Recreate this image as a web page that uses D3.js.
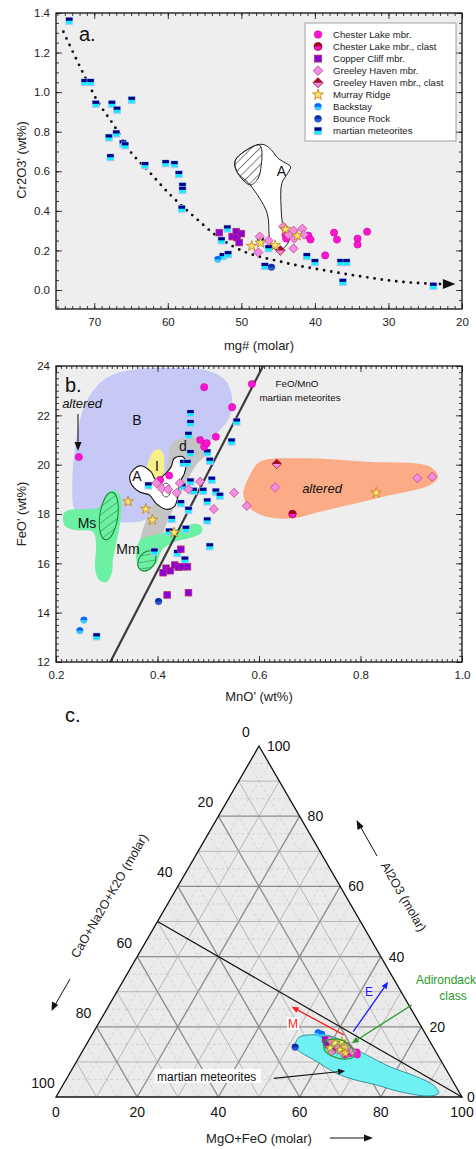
<!DOCTYPE html>
<html><head><meta charset="utf-8">
<script src="https://cdn.jsdelivr.net/npm/d3@7"></script>
<style>body{margin:0;background:#fff}svg{display:block;font-family:"Liberation Sans",Arial,sans-serif}</style>
</head><body><svg id="c" width="476" height="1149"></svg>
<script>
// ================= DATA : panel a (mg#, Cr2O3') =================
const aTicksX=[70,60,50,40,30,20];
const aTicksY=[0.0,0.2,0.4,0.6,0.8,1.0,1.2,1.4];
const aChesterLake=[[44.0,0.28],[43.9,0.26],[40.9,0.275],[40.6,0.255],[38.6,0.175],[37.4,0.29],[37.0,0.255],[34.2,0.26],[34.2,0.23],[32.9,0.295]];
const aCopperCliff=[[53.0,0.29],[51.25,0.27],[50.7,0.295],[50.6,0.265],[50.0,0.285],[50.3,0.24]];
const aGreeleyHaven=[[47.5,0.27],[47.7,0.19],[46.3,0.25],[44.3,0.32],[42.9,0.30],[41.7,0.31],[42.8,0.26],[42.9,0.21],[43.6,0.28],[41.5,0.28]];
const aGreeleyHavenClast=[[44.7,0.20]];
const aMurrayRidge=[[48.6,0.222],[47.4,0.239],[45.4,0.226],[44.0,0.307],[42.4,0.274]];
const aBackstay=[[53.2,0.155]];
const aBounceRock=[[45.9,0.115]];
const aMartian=[[73.4,1.36],[71.3,1.05],[70.5,1.05],[69.8,0.94],[67.6,0.94],[66.9,0.91],[64.9,0.96],[68.0,0.77],[67.0,0.79],[66.1,0.74],[65.8,0.73],[67.8,0.67],[63.1,0.63],[60.3,0.64],[59.1,0.635],[58.5,0.585],[58.0,0.525],[58.0,0.505],[58.1,0.41],[51.9,0.31],[52.7,0.25],[52.5,0.17],[51.8,0.18],[47.4,0.25],[46.3,0.21],[46.8,0.12],[41.1,0.17],[40.0,0.14],[36.5,0.14],[35.7,0.14],[36.2,0.04],[23.9,0.02]];
const aTrend=[[74.2,1.305],[71.3,1.08],[69.8,0.97],[67.3,0.83],[65.5,0.72],[62.6,0.60],[59.5,0.475],[56.1,0.36],[53.6,0.28],[51.1,0.22],[44.3,0.14],[38.8,0.10],[33.4,0.067],[28.4,0.042],[22.5,0.03]];
const aRegionA=[[47.9,0.733],[50.8,0.657],[50.6,0.598],[48.8,0.531],[46.5,0.389],[46.2,0.269],[45.9,0.219],[44.7,0.202],[43.5,0.253],[44.3,0.32],[44.6,0.421],[44.5,0.539],[43.7,0.59],[43.3,0.623],[43.9,0.64],[45.0,0.665],[45.9,0.707],[46.8,0.733]];
const aRegionAHatch=[[47.9,0.733],[50.8,0.657],[50.6,0.598],[48.8,0.531],[47.7,0.566],[47.3,0.632],[47.2,0.697],[47.4,0.728]];

// ================= DATA : panel b (MnO', FeO') =================
const bTicksX=[0.2,0.4,0.6,0.8,1.0];
const bTicksY=[12,14,16,18,20,22,24];
const bChesterLake=[[0.492,23.14],[0.586,23.27],[0.547,22.33],[0.245,20.31],[0.484,21.0],[0.492,20.73],[0.497,20.87],[0.515,21.13],[0.423,19.56],[0.405,19.38]];
const bChesterLakeClast=[[0.666,18.0]];
const bGreeleyHaven=[[0.398,19.25],[0.408,19.04],[0.421,19.0],[0.438,18.86],[0.444,19.25],[0.461,19.0],[0.484,19.31],[0.511,18.2],[0.551,18.86],[0.576,18.33],[0.632,19.08],[0.912,19.45],[0.941,19.51]];
const bGreeleyHavenClast=[[0.635,20.03]];
const bMurrayRidge=[[0.342,18.5],[0.377,18.2],[0.390,17.76],[0.433,17.25],[0.831,18.86]];
const bCopperCliff=[[0.446,16.57],[0.417,15.8],[0.411,15.62],[0.425,15.7],[0.434,15.93],[0.441,15.84],[0.448,15.86],[0.459,15.86],[0.419,14.72],[0.461,14.81]];
const bBackstay=[[0.247,13.27],[0.255,13.7]];
const bBounceRock=[[0.402,14.45]];
const bMartian=[[0.465,22.08],[0.465,21.68],[0.461,21.20],[0.556,21.74],[0.546,20.93],[0.465,20.46],[0.498,20.49],[0.503,20.15],[0.451,20.06],[0.459,20.06],[0.382,19.15],[0.465,19.31],[0.449,19.11],[0.471,18.93],[0.490,18.93],[0.507,19.38],[0.515,18.90],[0.523,18.73],[0.498,18.50],[0.446,18.43],[0.461,18.16],[0.498,17.73],[0.428,17.79],[0.423,17.28],[0.456,17.39],[0.503,16.68],[0.394,16.47],[0.439,16.41],[0.454,16.14],[0.280,13.03]];
const bFeMnLine=[[0.307,12],[0.608,24]];
const bRegionB=[[0.267,22.82],[0.299,23.51],[0.346,23.84],[0.425,23.92],[0.494,23.84],[0.533,23.43],[0.547,22.70],[0.541,21.89],[0.511,21.12],[0.484,20.39],[0.464,19.70],[0.434,18.97],[0.405,18.36],[0.375,17.76],[0.306,17.68],[0.257,17.76],[0.237,18.16],[0.232,19.18],[0.237,20.59],[0.247,21.81]];
const bRegionD=[[0.429,20.88],[0.454,21.08],[0.480,21.12],[0.498,20.92],[0.494,20.39],[0.476,19.99],[0.454,19.18],[0.434,18.36],[0.417,17.55],[0.401,16.74],[0.381,16.54],[0.366,16.74],[0.371,17.35],[0.385,18.08],[0.401,18.77],[0.415,19.58],[0.421,20.27]];
const bRegionI=[[0.391,20.51],[0.401,20.64],[0.411,20.47],[0.413,19.78],[0.411,19.22],[0.395,18.89],[0.377,18.89],[0.371,19.18],[0.377,19.70],[0.383,20.19]];
const bRegionA=[[0.346,19.58],[0.364,19.95],[0.387,19.72],[0.397,19.38],[0.417,19.66],[0.427,19.92],[0.433,20.26],[0.450,20.32],[0.456,20.06],[0.453,19.65],[0.443,19.24],[0.440,18.70],[0.433,18.30],[0.417,18.19],[0.397,18.43],[0.384,18.77],[0.364,18.90],[0.348,19.24]];
const bRegionAltered=[[0.572,18.57],[0.569,18.84],[0.582,19.58],[0.602,20.12],[0.681,20.26],[0.812,20.12],[0.937,19.92],[0.953,19.51],[0.937,19.18],[0.845,18.70],[0.720,18.09],[0.668,17.83],[0.615,17.89],[0.582,18.23]];
const bRegionMs=[[0.220,18.12],[0.257,18.20],[0.287,18.28],[0.299,18.81],[0.312,18.97],[0.326,18.73],[0.328,17.96],[0.320,16.95],[0.312,16.14],[0.310,15.61],[0.299,15.24],[0.285,15.32],[0.277,15.81],[0.279,16.74],[0.273,17.27],[0.237,17.35],[0.218,17.51],[0.214,17.92]];
const bRegionMm=[[0.366,16.95],[0.395,17.15],[0.434,17.35],[0.474,17.60],[0.488,17.47],[0.486,17.23],[0.464,17.03],[0.434,16.87],[0.409,16.54],[0.397,15.97],[0.375,15.65],[0.362,15.89],[0.358,16.46]];
const bHatchMs=[0.304,17.92];
const bHatchMm=[0.379,16.10];

// ================= DATA : panel c (ternary: MgO+FeO, Al2O3) =================
const cTicks=[0,20,40,60,80,100];
const cChesterLake=[[66.2,12.4],[67.7,12.8],[65.2,12.0],[68.2,12.0]];
const cCopperCliff=[[58.1,16.4],[59.6,14.8],[58.8,15.5],[61.5,13.4]];
const cGreeleyHaven=[[62.5,14.0],[64.0,12.8],[59.4,16.2],[64.6,14.5],[66.5,13.0],[61.5,12.8]];
const cMurrayRidge=[[61.0,15.4],[63.3,13.4],[64.1,14.2],[60.5,14.0],[62.5,15.8],[65.0,12.5]];
const cBounceRock=[[51.8,14.2]];
const cBackstay=[[55.4,18.3],[56.5,17.9]];
const cMartianRegion=[[51.5,17.2],[53.7,17.7],[59.7,17.2],[66.3,13.9],[70.5,12.0],[78.0,8.6],[85.9,5.8],[91.2,3.4],[93.7,1.1],[92.0,0.3],[83.9,1.5],[77.3,3.4],[69.7,5.3],[64.7,7.2],[59.2,10.1],[55.3,12.0],[53.6,12.9],[51.7,14.3],[51.2,16.2]];
const cAdirondack=[[58.2,15.7],[59.7,16.5],[62.9,16.0],[65.9,14.0],[67.6,11.7],[66.0,10.8],[62.8,11.4],[59.7,13.1]];
const cFeldsparJoin=[[0,50],[100,0]];
const cArrowM=[[62.0,17.7],[45.2,25.7]];
const cArrowE=[[63.9,18.6],[65.4,32.8]];
const cArrowAd=[[74.5,26.2],[65.2,15.3]];
const cArrowMM=[[51.0,5.3],[67.5,7.4]];

const legendLabels=["Chester Lake mbr.","Chester Lake mbr., clast","Copper Cliff mbr.","Greeley Haven mbr.","Greeley Haven mbr., clast","Murray Ridge","Backstay","Bounce Rock","martian meteorites"];
const legendTypes=["cl","clc","cc","gh","ghc","mr","bs","br","mm"];

// ================= DRAWING =================
const svg=d3.select('#c');
svg.append('rect').attr('width',476).attr('height',1149).attr('fill','#fff');
const defs=svg.append('defs');
function hatch(id,color,sp,w){
  const p=defs.append('pattern').attr('id',id).attr('patternUnits','userSpaceOnUse')
    .attr('width',sp).attr('height',sp).attr('patternTransform','rotate(45)');
  p.append('line').attr('x1',0).attr('y1',0).attr('x2',0).attr('y2',sp).attr('stroke',color).attr('stroke-width',w);
}
hatch('hK','#111',6,1);
hatch('hG','#1c7a30',6.5,0.9);
hatch('hT','#2a9a2a',4,0.8);

function mark(g,type,x,y,k){
  k=k||1;
  const s=g.append('g').attr('transform',`translate(${x},${y}) scale(${k})`);
  const hc=(r,top,bot,st)=>{
    s.append('circle').attr('r',r).attr('fill',bot).attr('stroke',st).attr('stroke-width',0.6);
    s.append('path').attr('d',`M${-r},0A${r},${r} 0 0 1 ${r},0Z`).attr('fill',top);
  };
  switch(type){
    case 'cl': s.append('circle').attr('r',3.6).attr('fill','#ff14d2').attr('stroke','#c8009e').attr('stroke-width',0.6);break;
    case 'clc': hc(3.8,'#a8001e','#ff14d2','#800018');break;
    case 'cc': s.append('rect').attr('x',-3.3).attr('y',-3.3).attr('width',6.6).attr('height',6.6).attr('fill','#8c00d8').attr('stroke','#b4306c').attr('stroke-width',0.8);break;
    case 'gh': s.append('path').attr('d','M0,-4.6L4.6,0L0,4.6L-4.6,0Z').attr('fill','#f28ee2').attr('stroke','#c4448f').attr('stroke-width',0.8);break;
    case 'ghc':
      s.append('path').attr('d','M0,-4.8L4.8,0L0,4.8L-4.8,0Z').attr('fill','#f28ee2').attr('stroke','#a0102a').attr('stroke-width',0.8);
      s.append('path').attr('d','M-4.8,0L0,-4.8L4.8,0Z').attr('fill','#a0102a');break;
    case 'mr': s.append('path').attr('d',d3.symbol(d3.symbolStar,34)()).attr('fill','#fbe96e').attr('stroke','#c47a10').attr('stroke-width',0.8);break;
    case 'bs': hc(3.3,'#0a64ff','#2ad0ff','#6aa8ff');break;
    case 'br': hc(3.3,'#0a2aa8','#2b58d8','#3050b0');break;
    case 'mm':
      s.append('rect').attr('x',-3.3).attr('y',-3.3).attr('width',6.6).attr('height',6.6).attr('fill','#00f4ff').attr('stroke','#a8c4f2').attr('stroke-width',1.1);
      s.append('rect').attr('x',-3.3).attr('y',-3.3).attr('width',6.6).attr('height',3.1).attr('fill','#00008a');break;
  }
}

function frameAxes(g,x,y,xMaj,xMin,yMaj,yMin,xf,yf){
  const [x0,x1]=x.range(), [y0,y1]=y.range(); // y0 bottom
  g.append('rect').attr('x',Math.min(x0,x1)).attr('y',y1).attr('width',Math.abs(x1-x0)).attr('height',y0-y1).attr('fill','#eeeeee');
  return ()=>{
    const ax=(gen,tr,vals,size,fmt,pad)=>{
      const a=g.append('g').attr('transform',tr).call(gen.tickValues(vals).tickSize(size).tickPadding(pad).tickFormat(fmt));
      a.select('.domain').remove();
      a.selectAll('line').attr('stroke','#111').attr('stroke-width',0.8);
      a.selectAll('text').attr('font-size',11.5).attr('fill','#222').attr('font-family','"Liberation Sans",Arial,sans-serif');
      return a;
    };
    const none=()=>'';
    ax(d3.axisBottom(x),`translate(0,${y0})`,xMin,-3,none,0);
    ax(d3.axisBottom(x),`translate(0,${y0})`,xMaj,-6,xf,9);
    ax(d3.axisTop(x),`translate(0,${y1})`,xMin,-3,none,0);
    ax(d3.axisTop(x),`translate(0,${y1})`,xMaj,-6,none,0);
    ax(d3.axisLeft(y),`translate(${Math.min(x0,x1)},0)`,yMin,-3,none,0);
    ax(d3.axisLeft(y),`translate(${Math.min(x0,x1)},0)`,yMaj,-6,yf,6);
    ax(d3.axisRight(y),`translate(${Math.max(x0,x1)},0)`,yMin,-3,none,0);
    ax(d3.axisRight(y),`translate(${Math.max(x0,x1)},0)`,yMaj,-6,none,0);
    g.append('rect').attr('x',Math.min(x0,x1)).attr('y',y1).attr('width',Math.abs(x1-x0)).attr('height',y0-y1).attr('fill','none').attr('stroke','#111').attr('stroke-width',1.3);
  };
}
const blob=d3.line().curve(d3.curveCatmullRomClosed.alpha(0.5));

// ---------------- panel a ----------------
const xA=d3.scaleLinear().domain([75.2,20]).range([56,462]);
const yA=d3.scaleLinear().domain([-0.096,1.4]).range([309,13]);
const gA=svg.append('g');
const finA=frameAxes(gA,xA,yA,aTicksX,d3.range(21,76,1),aTicksY,d3.range(-0.05,1.41,0.05).map(v=>+v.toFixed(2)),d3.format('d'),d3.format('.1f'));
defs.append('clipPath').attr('id','clipA').append('rect').attr('x',56).attr('y',13).attr('width',406).attr('height',296);
const pA=gA.append('g').attr('clip-path','url(#clipA)');
const pxA=d=>[xA(d[0]),yA(d[1])];
pA.append('path').attr('d',blob(aRegionA.map(pxA))).attr('fill','#fff').attr('stroke','#222').attr('stroke-width',1);
pA.append('path').attr('d',blob(aRegionAHatch.map(pxA))).attr('fill','url(#hK)').attr('stroke','#222').attr('stroke-width',1);
pA.append('text').attr('x',xA(45.2)).attr('y',yA(0.6)+5).attr('font-size',14).attr('fill','#111').text('A');
pA.append('path').attr('d',d3.line().curve(d3.curveMonotoneX)(aTrend.map(pxA))).attr('fill','none')
  .attr('stroke','#111').attr('stroke-width',2.9).attr('stroke-linecap','round').attr('stroke-dasharray','0,7.3');
{const yt=yA(0.03);pA.append('path').attr('d',`M${xA(22.6)},${yt-5}L${xA(20.9)},${yt}L${xA(22.6)},${yt+5}Z`).attr('fill','#111');}
aMartian.forEach(d=>mark(pA,'mm',...pxA(d)));
aBackstay.forEach(d=>mark(pA,'bs',...pxA(d)));
aBounceRock.forEach(d=>mark(pA,'br',...pxA(d)));
aCopperCliff.forEach(d=>mark(pA,'cc',...pxA(d)));
aChesterLake.forEach(d=>mark(pA,'cl',...pxA(d)));
aGreeleyHaven.forEach(d=>mark(pA,'gh',...pxA(d)));
aGreeleyHavenClast.forEach(d=>mark(pA,'ghc',...pxA(d)));
aMurrayRidge.forEach(d=>mark(pA,'mr',...pxA(d)));
finA();
gA.append('text').attr('x',79).attr('y',41).attr('font-size',20).attr('fill','#111').text('a.');
gA.append('text').attr('x',259).attr('y',350).attr('text-anchor','middle').attr('font-size',13).attr('fill','#222').text('mg# (molar)');
gA.append('text').attr('transform','translate(26,160) rotate(-90)').attr('text-anchor','middle').attr('font-size',13).attr('fill','#222').text("Cr2O3' (wt%)");
// legend
const lg=gA.append('g');
lg.append('rect').attr('x',305).attr('y',23).attr('width',151).attr('height',118).attr('fill','#fff').attr('stroke','#8a8a8a').attr('stroke-width',0.8);
legendLabels.forEach((t,i)=>{
  const yy=34.5+i*12.05;
  mark(lg,legendTypes[i],318,yy,1.05);
  lg.append('text').attr('x',333).attr('y',yy+3.4).attr('font-size',9.6).attr('fill','#222').text(t);
});

// ---------------- panel b ----------------
const xB=d3.scaleLinear().domain([0.2,1.0]).range([56,462]);
const yB=d3.scaleLinear().domain([12,24]).range([662,366]);
const gB=svg.append('g');
const finB=frameAxes(gB,xB,yB,bTicksX,d3.range(0.21,1.0,0.01).map(v=>+v.toFixed(2)),bTicksY,d3.range(12.25,24,0.25),d3.format('.1f'),d3.format('d'));
defs.append('clipPath').attr('id','clipB').append('rect').attr('x',56).attr('y',366).attr('width',406).attr('height',296);
const pB=gB.append('g').attr('clip-path','url(#clipB)');
const pxB=d=>[xB(d[0]),yB(d[1])];
pB.append('path').attr('d',blob(bRegionB.map(pxB))).attr('fill','#c6c9f5');
pB.append('path').attr('d',blob(bRegionD.map(pxB))).attr('fill','#c4c4c4');
pB.append('path').attr('d',blob(bRegionAltered.map(pxB))).attr('fill','#fbab86');
pB.append('path').attr('d',blob(bRegionMs.map(pxB))).attr('fill','#6cf0a4');
pB.append('path').attr('d',blob(bRegionMm.map(pxB))).attr('fill','#6cf0a4');
pB.append('path').attr('d',blob(bRegionI.map(pxB))).attr('fill','#f7f088');
pB.append('path').attr('d',blob(bRegionA.map(pxB))).attr('fill','#fff').attr('stroke','#111').attr('stroke-width',1.1);
{const [cx,cy]=pxB([0.417,18.97]);pB.append('ellipse').attr('cx',cx).attr('cy',cy).attr('rx',4.5).attr('ry',7).attr('fill','none').attr('stroke','#333').attr('stroke-width',0.8);}
{const [cx,cy]=pxB(bHatchMs);pB.append('ellipse').attr('cx',cx).attr('cy',cy).attr('rx',9).attr('ry',24).attr('transform',`rotate(8,${cx},${cy})`).attr('fill','url(#hG)').attr('stroke','#1c7a30').attr('stroke-width',1);}
{const [cx,cy]=pxB(bHatchMm);pB.append('ellipse').attr('cx',cx).attr('cy',cy).attr('rx',8).attr('ry',11).attr('transform',`rotate(35,${cx},${cy})`).attr('fill','url(#hG)').attr('stroke','#1c7a30').attr('stroke-width',1);}
pB.append('path').attr('d',d3.line()(bFeMnLine.map(pxB))).attr('stroke','#3a3a3a').attr('stroke-width',2.2);
bMartian.forEach(d=>mark(pB,'mm',...pxB(d)));
bBackstay.forEach(d=>mark(pB,'bs',...pxB(d)));
bBounceRock.forEach(d=>mark(pB,'br',...pxB(d)));
bCopperCliff.forEach(d=>mark(pB,'cc',...pxB(d)));
bChesterLake.forEach(d=>mark(pB,'cl',...pxB(d)));
bGreeleyHaven.forEach(d=>mark(pB,'gh',...pxB(d)));
bGreeleyHavenClast.forEach(d=>mark(pB,'ghc',...pxB(d)));
bChesterLakeClast.forEach(d=>mark(pB,'clc',...pxB(d)));
bMurrayRidge.forEach(d=>mark(pB,'mr',...pxB(d)));
const lbl=(t,x,y,fs,extra)=>{const e=gB.append('text').attr('x',x).attr('y',y).attr('font-size',fs).attr('fill','#111').attr('text-anchor','middle').text(t);if(extra)extra(e);return e;};
lbl('B',137,425,14);
lbl('I',157,471,14);
lbl('A',137,481,14);
lbl('d',183,451,14);
lbl('Ms',87,528,14);
lbl('Mm',128,554,14);
lbl('altered',322,493,13,e=>e.attr('font-style','italic'));
lbl('altered',82,408,13,e=>e.attr('font-style','italic'));
gB.append('line').attr('x1',78).attr('y1',414).attr('x2',78).attr('y2',443).attr('stroke','#111').attr('stroke-width',1);
gB.append('path').attr('d','M74.5,442L78,451L81.5,442Z').attr('fill','#111');
lbl('FeO/MnO',297,387,9.8);
lbl('martian meteorites',300,401,9.8);
finB();
gB.append('text').attr('x',65).attr('y',392).attr('font-size',20).attr('fill','#111').text('b.');
gB.append('text').attr('x',259).attr('y',701).attr('text-anchor','middle').attr('font-size',13).attr('fill','#222').text("MnO' (wt%)");
gB.append('text').attr('transform','translate(26,514) rotate(-90)').attr('text-anchor','middle').attr('font-size',13).attr('fill','#222').text("FeO' (wt%)");

// ---------------- panel c (ternary) ----------------
const tX=d3.scaleLinear().domain([0,100]).range([56,462]);
const tY=d3.scaleLinear().domain([0,100]).range([1097,746]);
const tp=d=>[tX(d[0]+d[1]/2),tY(d[1])];
const gC=svg.append('g');
const tri=[[0,0],[100,0],[0,100]].map(tp);
gC.append('path').attr('d',d3.line()(tri)+'Z').attr('fill','#ebebeb');
for(let v=5;v<100;v+=5){
  const st=v%20===0?{c:'#8c8c8c',w:1.3,d:null}:(v%10===0?{c:'#a9a9a9',w:0.8,d:null}:{c:'#c2c2c2',w:0.6,d:'3,2.5'});
  const segs=[[[0,v],[100-v,v]],[[v,0],[v,100-v]],[[100-v,0],[0,100-v]]];
  segs.forEach(s=>{
    const l=gC.append('path').attr('d',d3.line()(s.map(tp))).attr('stroke',st.c).attr('stroke-width',st.w).attr('fill','none');
    if(st.d)l.attr('stroke-dasharray',st.d);
  });
}
gC.append('path').attr('d',d3.line()(tri)+'Z').attr('fill','none').attr('stroke','#111').attr('stroke-width',1.3);
gC.append('path').attr('d',d3.line()(cFeldsparJoin.map(tp))).attr('stroke','#111').attr('stroke-width',1.2);
gC.append('path').attr('d',blob(cMartianRegion.map(tp))).attr('fill','#6ff0f2').attr('stroke','#1f7f86').attr('stroke-width',0.8);
cBackstay.forEach(d=>mark(gC,'bs',...tp(d)));
cBounceRock.forEach(d=>mark(gC,'br',...tp(d)));
cCopperCliff.forEach(d=>mark(gC,'cc',...tp(d),0.9));
cChesterLake.forEach(d=>mark(gC,'cl',...tp(d),0.9));
cGreeleyHaven.forEach(d=>mark(gC,'gh',...tp(d),0.9));
cMurrayRidge.forEach(d=>mark(gC,'mr',...tp(d),0.9));
gC.append('path').attr('d',blob(cAdirondack.map(tp))).attr('fill','url(#hT)').attr('stroke','#2a9a2a').attr('stroke-width',1.2);
function arrow(g,pts,color,w){
  const [a,b]=pts.map(tp);
  const ang=Math.atan2(b[1]-a[1],b[0]-a[0]);
  const L=7,H=3;
  const bx=b[0]-L*Math.cos(ang), by=b[1]-L*Math.sin(ang);
  g.append('line').attr('x1',a[0]).attr('y1',a[1]).attr('x2',bx).attr('y2',by).attr('stroke',color).attr('stroke-width',w);
  g.append('path').attr('d',`M${b[0]},${b[1]}L${bx-H*Math.sin(ang)},${by+H*Math.cos(ang)}L${bx+H*Math.sin(ang)},${by-H*Math.cos(ang)}Z`).attr('fill',color);
}
arrow(gC,cArrowM,'#ff1a1a',1.3);
arrow(gC,cArrowE,'#1a1aff',1.3);
arrow(gC,cArrowAd,'#2a9a2a',1.3);
arrow(gC,cArrowMM,'#111',1.2);
const tl=(t,x,y,fs,fill,anchor)=>gC.append('text').attr('x',x).attr('y',y).attr('font-size',fs).attr('fill',fill||'#111').attr('text-anchor',anchor||'middle').text(t);
gC.append('rect').attr('x',287).attr('y',1017).attr('width',12).attr('height',13).attr('fill','#fff');
tl('M',293,1028,12,'#ff1a1a');
tl('E',369,996,12,'#1a1aff');
tl('Adirondack',416,984,12,'#2a9a2a','start');
tl('class',453,1000,12,'#2a9a2a');
gC.append('rect').attr('x',155).attr('y',1069).attr('width',106).attr('height',14).attr('fill','#fff');
tl('martian meteorites',157,1081,12,'#111','start');
cTicks.forEach(v=>{
  tl(String(v),tX(v),1117,14,'#111');
  const [rx,ry]=tp([100-v,v]);
  if(v===0) tl(String(v),467,ry+5,14,'#111','start');
  else tl(String(v),rx+8,ry+5,14,'#111','start');
  const [lx,ly]=tp([0,100-v]);
  tl(String(v),lx-13,ly-9,14,'#111');
});
gC.append('text').attr('x',65).attr('y',722).attr('font-size',20).attr('fill','#111').text('c.');
gC.append('text').attr('x',259).attr('y',1143).attr('text-anchor','middle').attr('font-size',13).attr('fill','#222').text('MgO+FeO (molar)');
gC.append('line').attr('x1',330).attr('y1',1138).attr('x2',366).attr('y2',1138).attr('stroke','#111').attr('stroke-width',1);
gC.append('path').attr('d','M364,1134.5L373,1138L364,1141.5Z').attr('fill','#111');
gC.append('text').attr('transform','translate(400,899) rotate(60)').attr('text-anchor','middle').attr('font-size',12.5).attr('fill','#222').text('Al2O3 (molar)');
gC.append('line').attr('x1',377).attr('y1',856).attr('x2',360).attr('y2',826).attr('stroke','#111').attr('stroke-width',1);
gC.append('path').attr('d','M356.6,820L357.5,829.9L363.6,826.4Z').attr('fill','#111');
gC.append('text').attr('transform','translate(113,898) rotate(-60)').attr('text-anchor','middle').attr('font-size',12.5).attr('fill','#222').text('CaO+Na2O+K2O (molar)');
gC.append('line').attr('x1',70).attr('y1',979).attr('x2',55).attr('y2',1005).attr('stroke','#111').attr('stroke-width',1);
gC.append('path').attr('d','M51.5,1011L52,1001.5L58.2,1005Z').attr('fill','#111');
</script></body></html>
